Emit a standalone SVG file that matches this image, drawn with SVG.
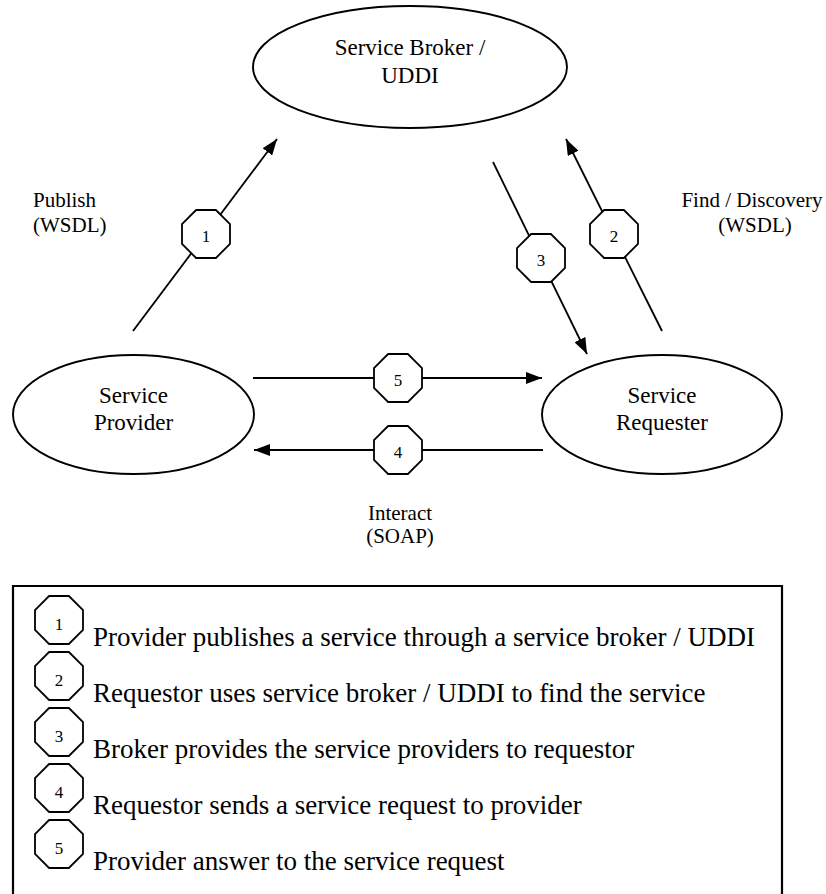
<svg xmlns="http://www.w3.org/2000/svg" width="826" height="894" viewBox="0 0 826 894">
<style>
.n{fill:#fff;stroke:#000;stroke-width:1.9}
.t{font-family:"Liberation Serif","Times New Roman",serif;fill:#000}
.node{font-size:23px;text-anchor:middle}
.lbl{font-size:21px}
.dig{font-size:17px;text-anchor:middle}
.leg{font-size:27px}
.c{stroke:#000;stroke-width:1.8;fill:none}
.oct{fill:#fff;stroke:#000;stroke-width:1.8}
</style>
<defs>
<marker id="ah" viewBox="0 0 16 12" refX="16" refY="6" markerWidth="16" markerHeight="12" markerUnits="userSpaceOnUse" orient="auto">
<path d="M0,0 L16,6 L0,12 Z" fill="#000"/>
</marker>
<polygon id="o" points="-9.9,-24 9.9,-24 24,-9.9 24,9.9 9.9,24 -9.9,24 -24,9.9 -24,-9.9"/>
</defs>
<rect width="826" height="894" fill="#fff"/>

<g id="broker">
<ellipse class="n" cx="410" cy="67" rx="157" ry="61"/>
<text class="t node" x="410" y="55">Service Broker /</text>
<text class="t node" x="410" y="83">UDDI</text>
</g>
<g id="provider">
<ellipse class="n" cx="133.5" cy="414.5" rx="120.5" ry="59.5"/>
<text class="t node" x="133.5" y="403">Service</text>
<text class="t node" x="133.5" y="430">Provider</text>
</g>
<g id="requester">
<ellipse class="n" cx="662" cy="414.5" rx="120" ry="59.5"/>
<text class="t node" x="662" y="403">Service</text>
<text class="t node" x="662" y="430">Requester</text>
</g>

<g id="connectors">
<line class="c" x1="133" y1="331" x2="277" y2="139" marker-end="url(#ah)"/>
<line class="c" x1="662" y1="331" x2="566" y2="139" marker-end="url(#ah)"/>
<line class="c" x1="493" y1="162" x2="587" y2="354" marker-end="url(#ah)"/>
<line class="c" x1="253" y1="378" x2="542" y2="378" marker-end="url(#ah)"/>
<line class="c" x1="543" y1="450" x2="254" y2="450" marker-end="url(#ah)"/>
</g>

<g id="step1">
<use href="#o" class="oct" x="206" y="234"/>
<text class="t dig" x="206" y="242">1</text>
</g>
<g id="step2">
<use href="#o" class="oct" x="614" y="234"/>
<text class="t dig" x="614" y="242">2</text>
</g>
<g id="step3">
<use href="#o" class="oct" x="541" y="258"/>
<text class="t dig" x="541" y="266">3</text>
</g>
<g id="step5">
<use href="#o" class="oct" x="398" y="378"/>
<text class="t dig" x="398" y="386">5</text>
</g>
<g id="step4">
<use href="#o" class="oct" x="398" y="450"/>
<text class="t dig" x="398" y="458">4</text>
</g>

<g id="labels">
<text class="t lbl" x="33" y="207">Publish</text>
<text class="t lbl" x="33" y="232">(WSDL)</text>
<text class="t lbl" x="752" y="207" text-anchor="middle">Find / Discovery</text>
<text class="t lbl" x="755" y="232" text-anchor="middle">(WSDL)</text>
<text class="t lbl" x="400" y="520" text-anchor="middle">Interact</text>
<text class="t lbl" x="400" y="543" text-anchor="middle">(SOAP)</text>
</g>

<g id="legend">
<path d="M13,896 V586 H782 V896" fill="none" stroke="#000" stroke-width="2.2"/>
<use href="#o" class="oct" x="59" y="620"/>
<text class="t dig" x="59" y="630">1</text>
<text class="t leg" x="93" y="646">Provider publishes a service through a service broker / UDDI</text>
<use href="#o" class="oct" x="59" y="676"/>
<text class="t dig" x="59" y="686">2</text>
<text class="t leg" x="93" y="702">Requestor uses service broker / UDDI to find the service</text>
<use href="#o" class="oct" x="59" y="732"/>
<text class="t dig" x="59" y="742">3</text>
<text class="t leg" x="93" y="758">Broker provides the service providers to requestor</text>
<use href="#o" class="oct" x="59" y="788"/>
<text class="t dig" x="59" y="798">4</text>
<text class="t leg" x="93" y="814">Requestor sends a service request to provider</text>
<use href="#o" class="oct" x="59" y="844"/>
<text class="t dig" x="59" y="854">5</text>
<text class="t leg" x="93" y="870">Provider answer to the service request</text>
</g>
</svg>
